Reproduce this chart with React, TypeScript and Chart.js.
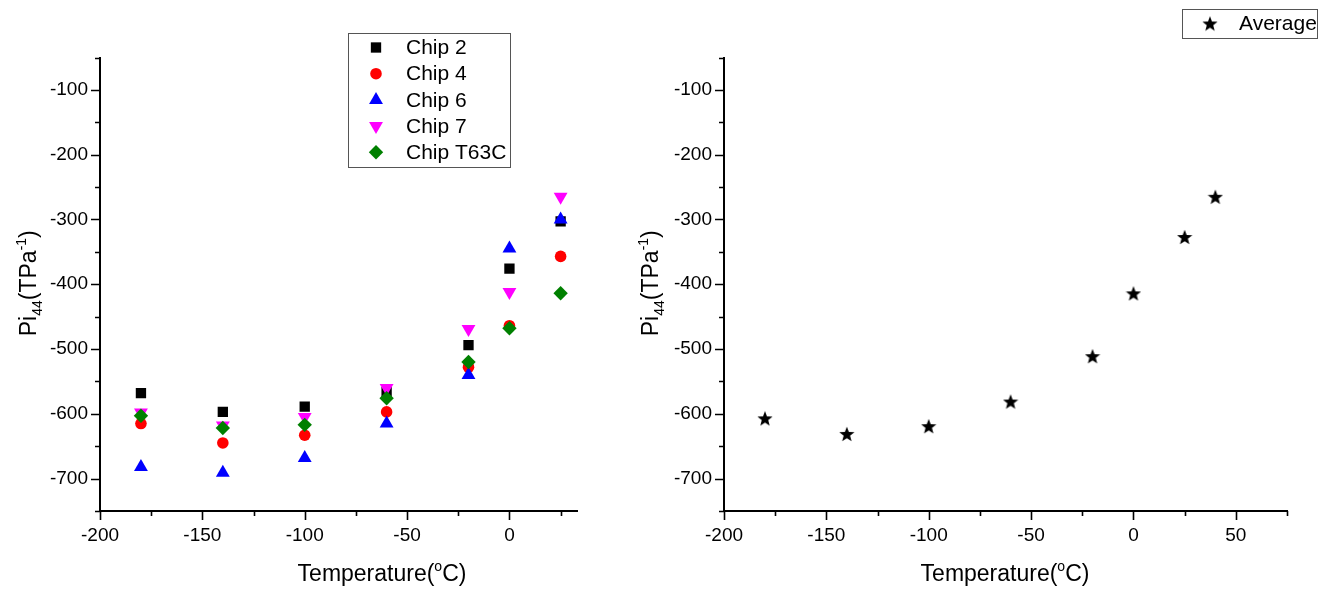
import React, { useEffect, useRef } from 'react';
import { Chart, registerables } from 'chart.js';
import { drawPoint } from 'chart.js/helpers';

Chart.register(...registerables);

// ---------- data ----------
const temperatures = [-180, -140, -100, -60, -20, 0, 25];
const chip2 = [-568, -597, -589, -566, -494, -376, -303];
const chip4 = [-615, -645, -633, -597, -528, -464, -357];
const chip6 = [-682, -691, -668, -615, -540, -345, -300];
const chip7 = [-598, -618, -605, -560, -469, -412, -265];
const chipT63C = [-603, -622, -617, -576, -520, -468, -414];

const avgTemperatures = [-180, -140, -100, -60, -20, 0, 25, 40];
const average = [-607, -631, -619, -581, -511, -414, -327, -265];

const leftXTicks = [-200, -150, -100, -50, 0];
const rightXTicks = [-200, -150, -100, -50, 0, 50];
const yTicks = [-700, -600, -500, -400, -300, -200, -100];

const leftXRange = [-200, 33];
const rightXRange = [-200, 75];
const yRange = [-750, -50];

const FONT = '"Liberation Sans", Arial, sans-serif';

function makeStar(size: number, color: string) {
  const c = document.createElement('canvas');
  c.width = size;
  c.height = size;
  const g = c.getContext('2d')!;
  const cx = size / 2;
  const cy = size / 2 + size * 0.05;
  const R = size / 2;
  const r = R * 0.42;
  g.beginPath();
  for (let i = 0; i < 10; i++) {
    const rad = i % 2 === 0 ? R : r;
    const a = -Math.PI / 2 + (i * Math.PI) / 5;
    const x = cx + rad * Math.cos(a);
    const y = cy + rad * Math.sin(a);
    if (i === 0) g.moveTo(x, y);
    else g.lineTo(x, y);
  }
  g.closePath();
  g.fillStyle = color;
  g.fill();
  return c;
}

function minorValues(min: number, max: number, step: number, majors: number[]) {
  const out: number[] = [];
  const start = Math.ceil(min / step) * step;
  for (let v = start; v <= max + 1e-9; v += step) {
    if (!majors.includes(v)) out.push(v);
  }
  return out;
}

type OverlayCfg = {
  xMajor: number[];
  xMinor: number[];
  yMajor: number[];
  yMinor: number[];
  legendBox: [number, number, number, number];
  legendMarkerX: number;
  legendTextX: number;
  legendRowY: number;
  legendRowStep: number;
  yTitleX: number;
  xTitleX: number;
  xTitleY: number;
};

function makeOverlay(cfg: OverlayCfg) {
  return {
    id: 'overlay',
    afterDraw(chart: any) {
      const ctx = chart.ctx as CanvasRenderingContext2D;
      const xs = chart.scales.x;
      const ys = chart.scales.y;
      const { left, bottom } = chart.chartArea;
      ctx.save();
      ctx.strokeStyle = '#000';
      ctx.lineWidth = 1.6;
      ctx.beginPath();
      cfg.xMajor.forEach((v) => {
        const p = Math.round(xs.getPixelForValue(v)) + 0.5;
        ctx.moveTo(p, bottom);
        ctx.lineTo(p, bottom + 9);
      });
      cfg.xMinor.forEach((v) => {
        const p = Math.round(xs.getPixelForValue(v)) + 0.5;
        ctx.moveTo(p, bottom);
        ctx.lineTo(p, bottom + 5);
      });
      cfg.yMajor.forEach((v) => {
        const p = Math.round(ys.getPixelForValue(v)) + 0.5;
        ctx.moveTo(left, p);
        ctx.lineTo(left - 9, p);
      });
      cfg.yMinor.forEach((v) => {
        const p = Math.round(ys.getPixelForValue(v)) + 0.5;
        ctx.moveTo(left, p);
        ctx.lineTo(left - 5, p);
      });
      ctx.stroke();

      // legend
      const [bx1, by1, bx2, by2] = cfg.legendBox;
      ctx.lineWidth = 1;
      ctx.strokeStyle = '#555';
      ctx.strokeRect(bx1 + 0.5, by1 + 0.5, bx2 - bx1, by2 - by1);
      ctx.font = `21px ${FONT}`;
      ctx.textBaseline = 'middle';
      ctx.textAlign = 'left';
      chart.data.datasets.forEach((ds: any, i: number) => {
        const y = cfg.legendRowY + i * cfg.legendRowStep;
        ctx.fillStyle = ds.backgroundColor;
        drawPoint(
          ctx,
          {
            pointStyle: ds.pointStyle,
            rotation: ds.pointRotation || 0,
            radius: ds.pointRadius,
            borderWidth: 0,
          } as any,
          cfg.legendMarkerX,
          y
        );
        ctx.fillStyle = '#000';
        ctx.font = `21px ${FONT}`;
        ctx.fillText(ds.label, cfg.legendTextX, y + 1);
      });

      // y title: Pi44(TPa-1)
      const big = 23;
      const small = 14;
      const parts: [string, number, number][] = [
        ['Pi', big, 0],
        ['44', small, 6],
        ['(TPa', big, 0],
        ['-1', small, -10],
        [')', big, 0],
      ];
      const measure = (ps: [string, number, number][]) =>
        ps.reduce((acc, [t, s]) => {
          ctx.font = `${s}px ${FONT}`;
          return acc + ctx.measureText(t).width;
        }, 0);
      const cy = (chart.chartArea.top + chart.chartArea.bottom) / 2 - 1;
      ctx.save();
      ctx.translate(cfg.yTitleX, cy);
      ctx.rotate(-Math.PI / 2);
      ctx.textBaseline = 'alphabetic';
      ctx.fillStyle = '#000';
      let u = -measure(parts) / 2;
      parts.forEach(([t, s, off]) => {
        ctx.font = `${s}px ${FONT}`;
        ctx.fillText(t, u, off);
        u += ctx.measureText(t).width;
      });
      ctx.restore();

      // x title: Temperature(°C)
      const xparts: [string, number, number][] = [
        ['Temperature(', big, 0],
        ['o', small, -10],
        ['C)', big, 0],
      ];
      let xx = cfg.xTitleX - measure(xparts) / 2;
      ctx.textBaseline = 'alphabetic';
      ctx.fillStyle = '#000';
      xparts.forEach(([t, s, off]) => {
        ctx.font = `${s}px ${FONT}`;
        ctx.fillText(t, xx, cfg.xTitleY + off);
        xx += ctx.measureText(t).width;
      });
      ctx.restore();
    },
  };
}

function scalesFor(xRange: number[], xTicks: number[], yWidth: number) {
  return {
    x: {
      type: 'linear',
      min: xRange[0],
      max: xRange[1],
      grid: { display: false, drawTicks: false },
      border: { display: true, color: '#000', width: 2 },
      afterBuildTicks: (s: any) => {
        s.ticks = xTicks.map((v) => ({ value: v }));
      },
      afterFit: (s: any) => {
        s.height = 79;
      },
      ticks: {
        color: '#000',
        font: { family: FONT, size: 19 },
        padding: 13,
        maxRotation: 0,
        autoSkip: false,
        callback: (v: any) => String(v),
      },
    },
    y: {
      type: 'linear',
      min: yRange[0],
      max: yRange[1],
      grid: { display: false, drawTicks: false },
      border: { display: true, color: '#000', width: 2 },
      afterBuildTicks: (s: any) => {
        s.ticks = yTicks.map((v) => ({ value: v }));
      },
      afterFit: (s: any) => {
        s.width = yWidth;
      },
      ticks: {
        color: '#000',
        font: { family: FONT, size: 19 },
        padding: 12,
        autoSkip: false,
        callback: (v: any) => String(v),
      },
    },
  };
}

const pts = (xs: number[], ys: number[]) => xs.map((x, i) => ({ x, y: ys[i] }));

export default function App() {
  const leftRef = useRef<HTMLCanvasElement>(null);
  const rightRef = useRef<HTMLCanvasElement>(null);

  useEffect(() => {
    const star = makeStar(16, '#000');
    const common = {
      animation: false,
      responsive: false,
      events: [],
      plugins: { legend: { display: false }, tooltip: { enabled: false } },
    };

    const left = new Chart(leftRef.current!, {
      type: 'scatter',
      data: {
        datasets: [
          { label: 'Chip 2', data: pts(temperatures, chip2), pointStyle: 'rect', pointRadius: 7.3, backgroundColor: '#000000', borderWidth: 0, order: 5 },
          { label: 'Chip 4', data: pts(temperatures, chip4), pointStyle: 'circle', pointRadius: 5.8, backgroundColor: '#ff0000', borderWidth: 0, order: 4 },
          { label: 'Chip 6', data: pts(temperatures, chip6), pointStyle: 'triangle', pointRadius: 8, backgroundColor: '#0000ff', borderWidth: 0, order: 3 },
          { label: 'Chip 7', data: pts(temperatures, chip7), pointStyle: 'triangle', pointRotation: 180, pointRadius: 8, backgroundColor: '#ff00ff', borderWidth: 0, order: 2 },
          { label: 'Chip T63C', data: pts(temperatures, chipT63C), pointStyle: 'rectRot', pointRadius: 7.2, backgroundColor: '#008000', borderWidth: 0, order: 1 },
        ] as any,
      },
      options: {
        ...common,
        layout: { padding: { top: 57.5, right: 43, left: 0, bottom: 0 } },
        scales: scalesFor(leftXRange, leftXTicks, 100) as any,
      } as any,
      plugins: [
        makeOverlay({
          xMajor: leftXTicks,
          xMinor: minorValues(leftXRange[0], leftXRange[1], 25, leftXTicks),
          yMajor: yTicks,
          yMinor: minorValues(yRange[0], yRange[1], 50, yTicks),
          legendBox: [348, 33, 510, 167],
          legendMarkerX: 376,
          legendTextX: 406,
          legendRowY: 47.5,
          legendRowStep: 26.2,
          yTitleX: 36,
          xTitleX: 382,
          xTitleY: 581,
        }),
      ],
    });

    const right = new Chart(rightRef.current!, {
      type: 'scatter',
      data: {
        datasets: [
          { label: 'Average', data: pts(avgTemperatures, average), pointStyle: star, pointRadius: 8, backgroundColor: '#000000', borderWidth: 0 },
        ] as any,
      },
      options: {
        ...common,
        layout: { padding: { top: 57.5, right: 52, left: 0, bottom: 0 } },
        scales: scalesFor(rightXRange, rightXTicks, 104) as any,
      } as any,
      plugins: [
        makeOverlay({
          xMajor: rightXTicks,
          xMinor: minorValues(rightXRange[0], rightXRange[1], 25, rightXTicks),
          yMajor: yTicks,
          yMinor: minorValues(yRange[0], yRange[1], 50, yTicks),
          legendBox: [562, 9, 697, 38],
          legendMarkerX: 590,
          legendTextX: 619,
          legendRowY: 23.5,
          legendRowStep: 26,
          yTitleX: 38,
          xTitleX: 385,
          xTitleY: 581,
        }),
      ],
    });

    return () => {
      left.destroy();
      right.destroy();
    };
  }, []);

  return (
    <div style={{ position: 'absolute', left: 0, top: 0, width: 1339, height: 590, background: '#fff', overflow: 'hidden' }}>
      <canvas ref={leftRef} width={620} height={590} style={{ position: 'absolute', left: 0, top: 0, width: 620, height: 590 }} />
      <canvas ref={rightRef} width={719} height={590} style={{ position: 'absolute', left: 620, top: 0, width: 719, height: 590 }} />
    </div>
  );
}
